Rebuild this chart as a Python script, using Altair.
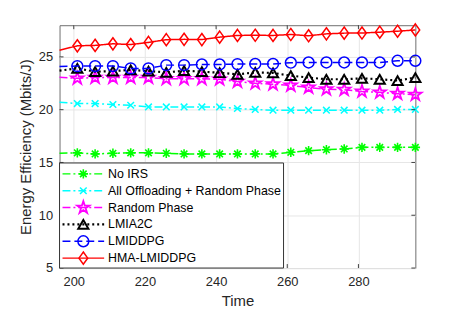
import altair as alt
import pandas as pd

# ---------------- data ----------------
x_vals = [196, 201, 206, 211, 216, 221, 226, 231, 236, 241, 246,
          251, 256, 261, 266, 271, 276, 281, 286, 291, 296]

names = ["No IRS", "All Offloading + Random Phase", "Random Phase",
         "LMIA2C", "LMIDDPG", "HMA-LMIDDPG"]

y_noirs = [15.87, 15.91, 15.81, 15.87, 15.91, 15.91, 15.87, 15.81, 15.81, 15.81, 15.81,
           15.81, 15.81, 15.96, 16.12, 16.21, 16.28, 16.43, 16.43, 16.43, 16.43]
y_alloff = [20.70, 20.58, 20.58, 20.49, 20.42, 20.26, 20.26, 20.26, 20.26, 20.26, 20.11,
            20.02, 19.95, 19.95, 19.95, 19.95, 19.95, 19.95, 19.95, 20.02, 20.02]
y_random = [23.07, 22.97, 23.04, 23.04, 23.04, 23.04, 22.92, 22.92, 22.92, 22.88, 22.66,
            22.50, 22.41, 22.29, 22.10, 21.94, 21.89, 21.73, 21.64, 21.51, 21.42]
y_lmia2c = [23.70, 23.91, 23.60, 23.66, 23.76, 23.66, 23.53, 23.69, 23.60, 23.50, 23.35,
            23.53, 23.48, 23.22, 23.04, 22.88, 22.88, 22.97, 22.88, 22.76, 23.04]
y_lmiddpg = [24.10, 24.13, 24.13, 24.13, 23.91, 23.91, 24.22, 24.22, 24.28, 24.28, 24.32,
             24.33, 24.33, 24.45, 24.47, 24.47, 24.47, 24.47, 24.47, 24.63, 24.63]
y_hma = [25.63, 26.05, 26.09, 26.24, 26.17, 26.37, 26.63, 26.66, 26.64, 26.87, 27.03,
         27.05, 27.03, 27.12, 27.00, 27.18, 27.25, 27.26, 27.34, 27.43, 27.55]

series_y = [y_noirs, y_alloff, y_random, y_lmia2c, y_lmiddpg, y_hma]

x_ticks = [200, 220, 240, 260, 280]
y_ticks = [5, 10, 15, 20, 25]

# ---------------- styles ----------------
STAR5 = ("M0,-1L0.2245,-0.309L0.951,-0.309L0.363,0.118L0.588,0.809L0,0.382"
         "L-0.588,0.809L-0.363,0.118L-0.951,-0.309L-0.2245,-0.309Z")
ASTER = "M-1,0L1,0M0,-1L0,1M-0.7,-0.7L0.7,0.7M-0.7,0.7L0.7,-0.7"
XMARK = "M-1,-1L1,1M-1,1L1,-1"
DIAM = "M0,-1L0.72,0L0,1L-0.72,0Z"

styles = [
    dict(color="#00ff00", dash=[8, 3, 2, 3], shape=ASTER, size=90, lw=1.5, mw=1.6),
    dict(color="#00ffff", dash=[8, 3, 2, 3], shape=XMARK, size=45, lw=1.5, mw=1.5),
    dict(color="#ff00ff", dash=[8, 3, 2, 3], shape=STAR5, size=170, lw=1.5, mw=1.8),
    dict(color="#000000", dash=[2, 3], shape="triangle-up", size=105, lw=2.2, mw=2),
    dict(color="#0000ff", dash=[8, 4], shape="circle", size=120, lw=1.5, mw=1.5),
    dict(color="#ff0000", dash=[1, 0], shape=DIAM, size=150, lw=1.5, mw=1.5),
]

W, H = 359, 245
FONT = "Liberation Sans"
TXT = "#262626"

xs = alt.Scale(domain=[196, 296], nice=False, zero=False)
ys = alt.Scale(domain=[5, 28], nice=False, zero=False)

x_axis = alt.Axis(values=x_ticks, grid=True, ticks=False, domain=False,
                  labelFontSize=13, labelPadding=8, labelColor=TXT, labelFont=FONT,
                  title="Time", titleFontSize=15, titleFont=FONT, titleColor=TXT,
                  titleFontWeight="normal", titlePadding=5,
                  gridColor="#e6e6e6", gridWidth=1)
y_axis = alt.Axis(values=y_ticks, grid=True, ticks=False, domain=False,
                  labelFontSize=13, labelPadding=7, labelColor=TXT, labelFont=FONT,
                  title="Energy Efficiency (Mbits/J)", titleFontSize=15, titleFont=FONT,
                  titleColor=TXT, titleFontWeight="normal", titlePadding=5,
                  gridColor="#e6e6e6", gridWidth=1)

X = alt.X("x:Q", scale=xs, axis=x_axis)
Y = alt.Y("y:Q", scale=ys, axis=y_axis)

layers = []
for yv, st in zip(series_y, styles):
    df = pd.DataFrame({"x": x_vals, "y": yv})
    line = alt.Chart(df).mark_line(color=st["color"], strokeDash=st["dash"],
                                   strokeWidth=st["lw"]).encode(x=X, y=Y)
    pts = alt.Chart(df.iloc[1:]).mark_point(shape=st["shape"], size=st["size"],
                                            filled=False, color=st["color"],
                                            strokeWidth=st["mw"], opacity=1).encode(x=X, y=Y)
    layers += [line, pts]

# inward ticks on all four sides
xt_df = pd.DataFrame({"x": x_ticks})
yt_df = pd.DataFrame({"y": y_ticks})
tick_style = dict(color="#404040", strokeWidth=1)
layers += [
    alt.Chart(xt_df).mark_rule(**tick_style).encode(x=X, y=alt.value(H), y2=alt.value(H - 4)),
    alt.Chart(xt_df).mark_rule(**tick_style).encode(x=X, y=alt.value(0), y2=alt.value(4)),
    alt.Chart(yt_df).mark_rule(**tick_style).encode(y=Y, x=alt.value(0), x2=alt.value(4)),
    alt.Chart(yt_df).mark_rule(**tick_style).encode(y=Y, x=alt.value(W), x2=alt.value(W - 4)),
]
main = alt.layer(*layers)

# ---------------- legend (southwest, boxed) ----------------
leg_df = pd.DataFrame({"name": names})
LY = alt.Y("name:N", axis=None,
           scale=alt.Scale(type="point", domain=names, range=[150, 235], padding=0))

box = alt.Chart(pd.DataFrame({"name": [names[0]]})).mark_rect(
    fill="white", stroke="#333333", strokeWidth=1).encode(
    x=alt.value(0), x2=alt.value(226), y=alt.value(139), y2=alt.value(H))
leg_layers = [box]
for nm, st in zip(names, styles):
    d = pd.DataFrame({"name": [nm]})
    leg_layers.append(alt.Chart(d).mark_rule(color=st["color"], strokeDash=st["dash"],
                                             strokeWidth=st["lw"]).encode(
        x=alt.value(3), x2=alt.value(45), y=LY))
    leg_layers.append(alt.Chart(d).mark_point(shape=st["shape"], size=st["size"],
                                              filled=False, color=st["color"],
                                              strokeWidth=st["mw"], opacity=1).encode(
        x=alt.value(24), y=LY))
leg_layers.append(alt.Chart(leg_df).mark_text(align="left", baseline="middle", fontSize=12.5,
                                              font=FONT, color="#000000").encode(
    x=alt.value(49), y=LY, text="name:N"))
legend = alt.layer(*leg_layers)

chart = alt.layer(main, legend).resolve_scale(x="independent", y="independent").properties(
    width=W, height=H,
    autosize=alt.AutoSizeParams(type="none"),
    padding={"left": 52, "top": 16, "right": 40, "bottom": 44},
).configure_view(stroke="#6e6e6e", strokeWidth=1)

chart.save("out.html", embed_options={"renderer": "svg", "actions": False})
